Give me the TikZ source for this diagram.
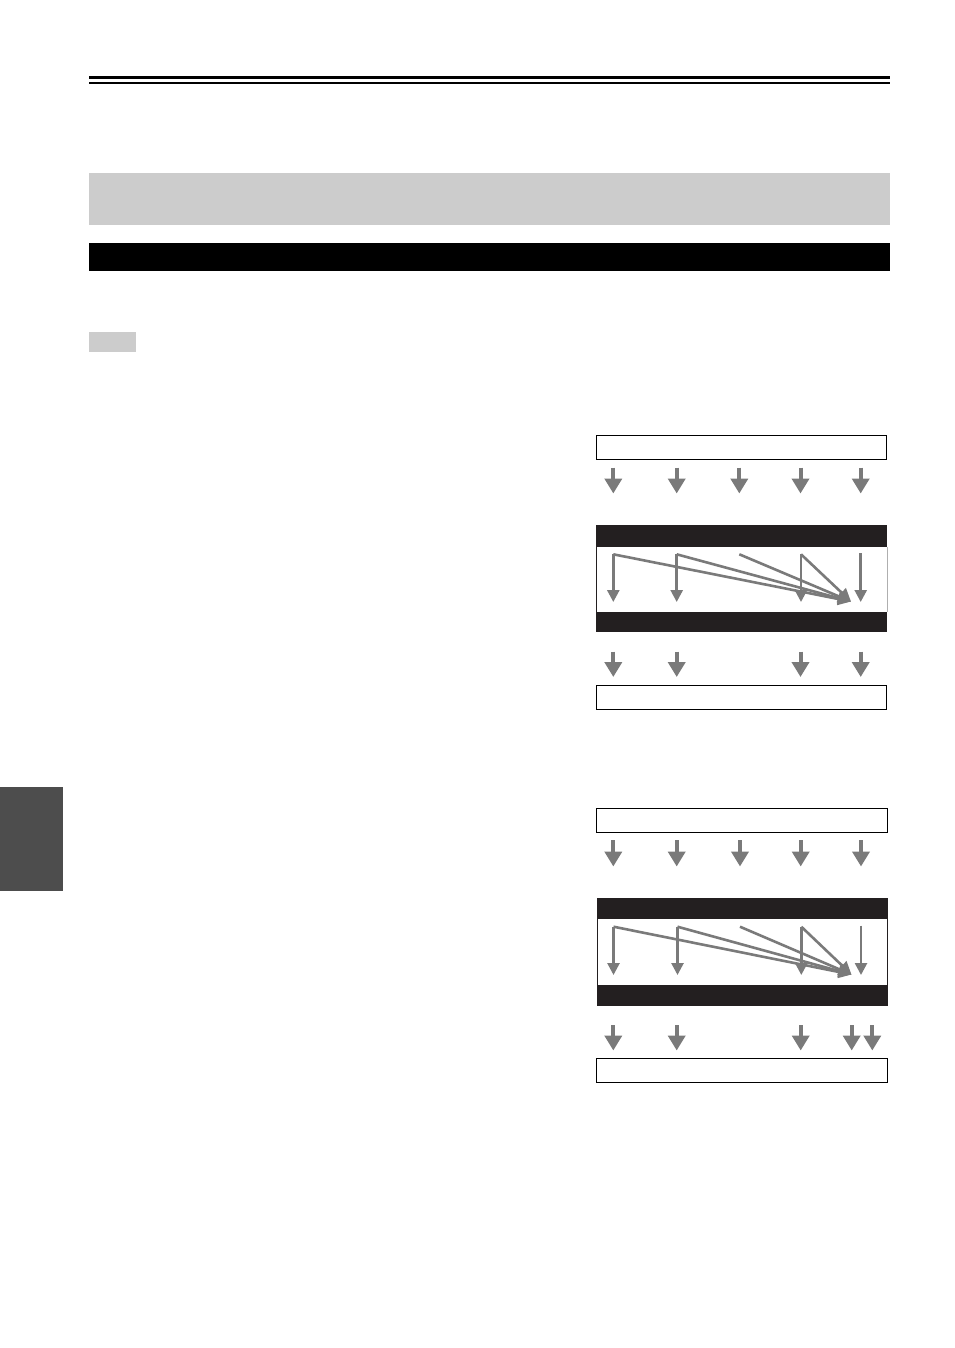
\documentclass[tikz,border=0pt]{standalone}
\usetikzlibrary{arrows.meta}
\definecolor{arrgray}{RGB}{122,122,122}
\definecolor{bandgray}{RGB}{204,204,204}
\definecolor{tabgray}{RGB}{77,77,77}
\definecolor{nearblack}{RGB}{35,31,32}
\tikzset{
  bigarrow/.style={draw=arrgray, line width=4pt, -{Triangle[width=17pt,length=15pt]}},
  inarrow/.style={draw=arrgray, line width=2.6pt, -{Triangle[width=12pt,length=12pt]}},
  inline/.style={draw=arrgray, line width=2.6pt},
  conv/.style={draw=arrgray, line width=2.6pt, -{Triangle[width=12pt,length=13pt]}},
  framebox/.style={draw=black, line width=1.1pt, fill=white},
  band/.style={fill=nearblack, draw=none}
}
\begin{document}
\begin{tikzpicture}[x=1pt,y=-1pt]
\useasboundingbox (0,0) rectangle (954,1348);
\fill[white] (0,0) rectangle (954,1348);
% header rules
\fill[black] (89,76) rectangle (890,79.5);
\fill[black] (89,82.5) rectangle (890,83.8);
% bands
\fill[bandgray] (89,173) rectangle (890,225);
\fill[black] (89,243) rectangle (890,271);
\fill[bandgray] (89,332) rectangle (136,352);
% side tab
\fill[tabgray] (0,787) rectangle (63,891);

% ===== Diagram 1 =====
\node[framebox, minimum width=290pt, minimum height=24pt, inner sep=0pt, anchor=north west] (topA) at (595.5,434.5) {};
\foreach \i/\x in {1/613.3,2/676.7,3/739.3,4/800.5,5/860.7}{
  \coordinate (a\i s) at (\x,467.5);
  \coordinate (a\i e) at (\x,493.5);
  \draw[bigarrow] (a\i s) -- (a\i e);
}
% block
\fill[nearblack] (596,525) rectangle (887.3,632.3);
\fill[white] (597,547) rectangle (886.5,612.3);
\draw[arrgray!60, line width=0.8pt] (886.9,547) -- (886.9,612.3);
\foreach \i/\x in {1/613.3,2/676.7,3/739.3,4/801,5/860.7}{
  \coordinate (p\i t) at (\x,554.3);
  \coordinate (p\i b) at (\x,602);
}
\coordinate (cA) at (851,601.5);
\draw[inarrow] (p1t) -- (p1b);
\draw[inarrow] (p2t) -- (p2b);
\draw[inarrow] (p4t) -- (p4b);
\draw[inarrow] ([yshift=1pt]p5t) -- (p5b);
\draw[conv] (p1t) -- (cA);
\draw[conv] (p2t) -- (cA);
\draw[conv] (p3t) -- (cA);
\draw[conv] (p4t) -- (cA);
\foreach \i/\x in {1/613.3,2/676.7,4/800.5,5/860.7}{
  \coordinate (b\i s) at (\x,651.7);
  \coordinate (b\i e) at (\x,677);
  \draw[bigarrow] (b\i s) -- (b\i e);
}
\node[framebox, minimum width=290pt, minimum height=24pt, inner sep=0pt, anchor=north west] (botA) at (595.5,684.5) {};

% ===== Diagram 2 =====
\node[framebox, minimum width=291pt, minimum height=24pt, inner sep=0pt, anchor=north west] (topB) at (595.5,807.5) {};
\foreach \i/\x in {1/613.3,2/676.7,3/740,4/800.7,5/861}{
  \coordinate (c\i s) at (\x,840);
  \coordinate (c\i e) at (\x,866.5);
  \draw[bigarrow] (c\i s) -- (c\i e);
}
\fill[nearblack] (597,897.7) rectangle (887.7,1005.7);
\fill[white] (598,919) rectangle (887.2,985);
\foreach \i/\x in {1/613.5,2/677.5,3/740,4/801.3,5/861}{
  \coordinate (q\i t) at (\x,926.7);
  \coordinate (q\i b) at (\x,975);
}
\coordinate (cB) at (851.5,974.5);
\draw[inarrow] (q1t) -- (q1b);
\draw[inarrow] (q2t) -- (q2b);
\draw[inarrow] (q4t) -- (q4b);
\draw[inarrow] ([yshift=1pt]q5t) -- (q5b);
\draw[conv] (q1t) -- (cB);
\draw[conv] (q2t) -- (cB);
\draw[conv] (q3t) -- (cB);
\draw[conv] (q4t) -- (cB);
\foreach \i/\x in {1/613.3,2/676.7,4/800.7,5/851.7,6/872.3}{
  \coordinate (d\i s) at (\x,1025);
  \coordinate (d\i e) at (\x,1050.5);
  \draw[bigarrow] (d\i s) -- (d\i e);
}
\node[framebox, minimum width=291pt, minimum height=24pt, inner sep=0pt, anchor=north west] (botB) at (595.5,1057.5) {};
\end{tikzpicture}
\end{document}
